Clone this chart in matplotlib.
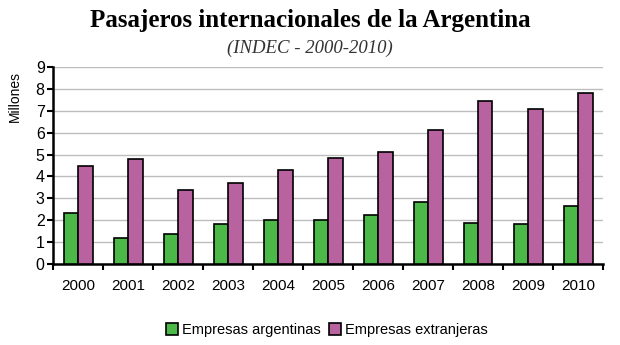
import matplotlib.pyplot as plt
import numpy as np

# Datos (millones de pasajeros)
anios = ['2000', '2001', '2002', '2003', '2004', '2005',
         '2006', '2007', '2008', '2009', '2010']
argentinas = [2.33, 1.17, 1.36, 1.81, 2.0, 2.0, 2.25, 2.84, 1.87, 1.81, 2.66]
extranjeras = [4.46, 4.78, 3.37, 3.69, 4.28, 4.85, 5.12, 6.14, 7.43, 7.1, 7.82]

verde = '#4cb848'
violeta = '#b8629f'

fig = plt.figure(figsize=(6.2, 3.45), dpi=100)
ax = fig.add_axes([53 / 620, 1 - 264 / 345, 550 / 620, 197 / 345])

x = np.arange(len(anios))
w = 0.29
ax.bar(x - w / 2, argentinas, w, color=verde, edgecolor='black', linewidth=1.2,
       label='Empresas argentinas', zorder=3)
ax.bar(x + w / 2, extranjeras, w, color=violeta, edgecolor='black', linewidth=1.2,
       label='Empresas extranjeras', zorder=3)

ax.set_xlim(-0.5, len(anios) - 0.5)
ax.set_ylim(0, 9)
ax.set_yticks(range(0, 10))
ax.set_xticks(x)
ax.set_xticklabels(anios)
ax.set_xticks(np.arange(-0.5, len(anios)), minor=True)
ax.tick_params(axis='x', which='major', length=0, pad=11, labelsize=11)
ax.tick_params(axis='x', which='minor', length=4, width=1.5, direction='out')
ax.tick_params(axis='y', length=4, width=1.5, labelsize=11.5, pad=2)
ax.grid(axis='y', color='#bdbdbd', linewidth=1, zorder=0)

for s in ['top', 'right']:
    ax.spines[s].set_visible(False)
ax.spines['left'].set_linewidth(1.8)
ax.spines['bottom'].set_linewidth(1.8)

fig.text(15 / 620, 1 - 97 / 345, 'Millones', rotation=90, ha='center', va='center',
         fontsize=10, family='Liberation Sans')
fig.text(0.5, 1 - 20 / 345, 'Pasajeros internacionales de la Argentina', ha='center',
         va='center', fontsize=18, fontweight='bold', family='Liberation Serif')
fig.text(0.5, 1 - 48 / 345, '(INDEC - 2000-2010)', ha='center', va='center',
         fontsize=13.5, style='italic', family='Liberation Serif', color='#333333')

fig.legend(loc='center', bbox_to_anchor=(327 / 620, 1 - 330 / 345), ncol=2,
           frameon=False, fontsize=10.5, handlelength=0.8, handleheight=0.8,
           handletextpad=0.3, columnspacing=0.6)

for t in ax.get_xticklabels() + ax.get_yticklabels():
    t.set_family('Liberation Sans')
for t in fig.legends[0].get_texts():
    t.set_family('Liberation Sans')

fig.savefig('out.png', dpi=100)
